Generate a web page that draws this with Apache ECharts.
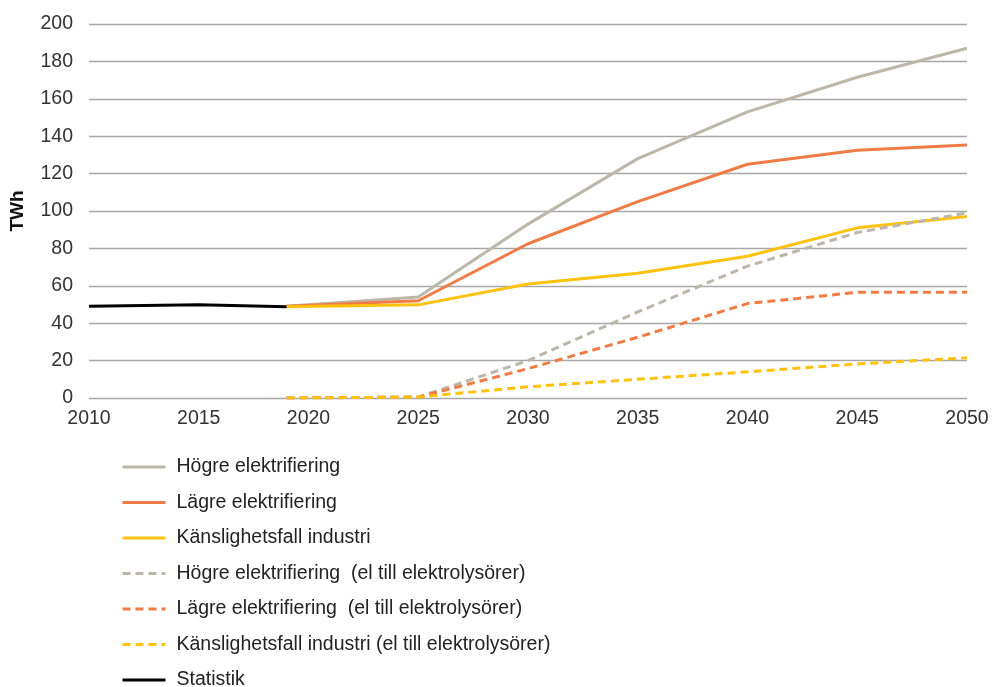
<!DOCTYPE html>
<html>
<head>
<meta charset="utf-8">
<script src="https://cdn.jsdelivr.net/npm/echarts@6/dist/echarts.min.js"></script>
<style>
  html, body { margin: 0; padding: 0; background: #fff; }
  #chart { width: 992px; height: 687px; }
</style>
</head>
<body>
<div id="chart"></div>
<script>
// years for the statistics and scenario series
const statYears = [2010, 2015, 2019]
const scenYears = [2019, 2025, 2030, 2035, 2040, 2045, 2050]

const statistik = [49, 49.8, 48.8]
const hogre = [49, 54, 93, 128, 153, 171.5, 187]
const lagre = [49, 52, 82.5, 105, 125, 132.5, 135.3]
const kanslighet = [48.8, 49.8, 61, 66.7, 75.8, 91, 97]
const hogreEl = [0, 0.5, 20, 46, 70.5, 88.5, 99]
const lagreEl = [0, 0.5, 15.7, 32.5, 50.5, 56.5, 56.5]
const kanslighetEl = [0, 0.5, 6, 10, 14, 18.2, 21.5]

const yTicks = [0, 20, 40, 60, 80, 100, 120, 140, 160, 180, 200]
const xTicks = [2010, 2015, 2020, 2025, 2030, 2035, 2040, 2045, 2050]

const grey = '#bdb7ab'
const orange = '#f07c45'
const yellow = '#ffc20e'
const font = 'Liberation Sans'

function pairs (years, vals) {
  return years.map((y, i) => [y, vals[i]])
}

function line (name, years, vals, color, dashed) {
  return {
    name: name,
    type: 'line',
    symbol: 'none',
    data: pairs(years, vals),
    lineStyle: {
      width: 3,
      color: color,
      type: dashed ? [8, 5] : 'solid'
    },
    itemStyle: { color: color }
  }
}

const chart = echarts.init(document.getElementById('chart'))

chart.setOption({
  animation: false,
  textStyle: { fontFamily: font },
  grid: { left: 89, right: 25, top: 24, bottom: 289 },
  legend: {
    orient: 'vertical',
    left: 121,
    top: 457,
    height: 300,
    padding: 0,
    itemWidth: 43,
    itemHeight: 18,
    itemGap: 15.5,
    itemStyle: { opacity: 0 },
    lineStyle: { width: 3 },
    textStyle: { fontSize: 19.5, color: '#222', fontFamily: font, padding: [0, 0, 0, 6] },
    data: [
      'Högre elektrifiering',
      'Lägre elektrifiering',
      'Känslighetsfall industri',
      'Högre elektrifiering  (el till elektrolysörer)',
      'Lägre elektrifiering  (el till elektrolysörer)',
      'Känslighetsfall industri (el till elektrolysörer)',
      'Statistik'
    ]
  },
  xAxis: {
    type: 'value',
    min: xTicks[0],
    max: xTicks[xTicks.length - 1],
    interval: 5,
    axisLine: { show: false },
    axisTick: { show: false },
    splitLine: { show: false },
    axisLabel: { fontSize: 19.5, color: '#333', margin: 11, formatter: v => String(v) }
  },
  yAxis: {
    type: 'value',
    min: yTicks[0],
    max: yTicks[yTicks.length - 1],
    interval: 20,
    name: 'TWh',
    nameLocation: 'middle',
    nameRotate: 90,
    nameGap: 62,
    nameTextStyle: { fontSize: 19, fontWeight: 'bold', color: '#111' },
    axisLine: { show: false },
    axisTick: { show: false },
    axisLabel: { fontSize: 19.5, color: '#333', margin: 16 },
    splitLine: { lineStyle: { color: '#a8a8a8', width: 1.3 } }
  },
  series: [
    line('Högre elektrifiering', scenYears, hogre, grey, false),
    line('Lägre elektrifiering', scenYears, lagre, orange, false),
    line('Känslighetsfall industri', scenYears, kanslighet, yellow, false),
    line('Högre elektrifiering  (el till elektrolysörer)', scenYears, hogreEl, grey, true),
    line('Lägre elektrifiering  (el till elektrolysörer)', scenYears, lagreEl, orange, true),
    line('Känslighetsfall industri (el till elektrolysörer)', scenYears, kanslighetEl, yellow, true),
    line('Statistik', statYears, statistik, '#000', false)
  ]
})
</script>
</body>
</html>
